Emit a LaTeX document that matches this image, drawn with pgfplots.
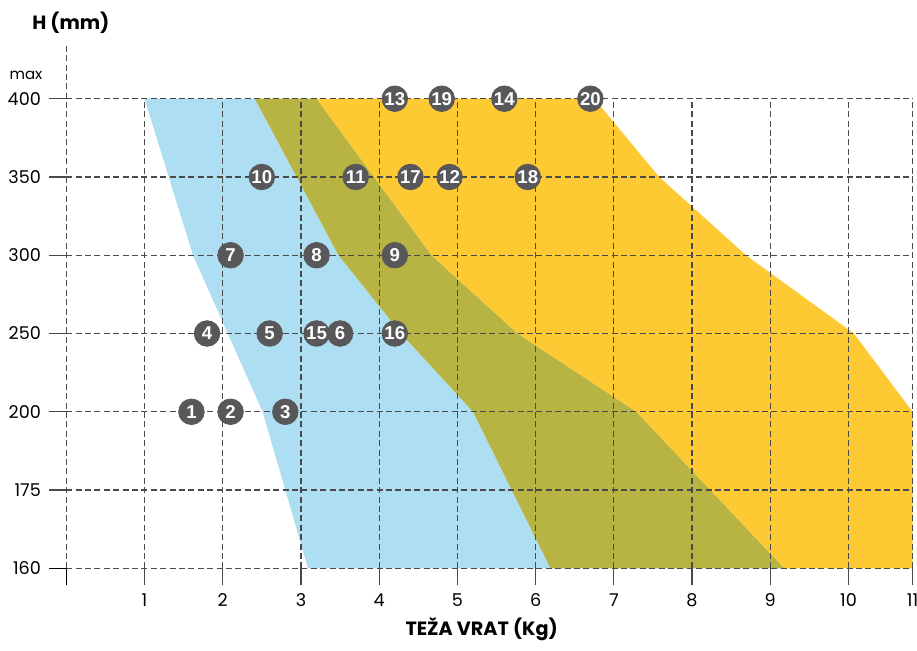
\documentclass[border=0pt]{standalone}
\usepackage{pgfplots}
\pgfplotsset{compat=1.18}
\usepackage{fontspec}
\setmainfont{Poppins}
\newfontfamily\circfont{Liberation Sans}
\definecolor{cblue}{HTML}{AEDEF2}
\definecolor{colive}{HTML}{B8B444}
\definecolor{cyellow}{HTML}{FDCA34}
\definecolor{cdot}{HTML}{58585A}
\definecolor{cgrid}{HTML}{4A4A4A}
\begin{document}
\begin{tikzpicture}
\begin{axis}[
  set layers,
  scale only axis, width=423.15pt, height=234.8pt,
  xmin=0, xmax=10.82, ymin=0, ymax=6,
  axis line style={draw=none},
  xtick={0,1,2,3,4,5,6,7,8,9,10,10.82},
  xticklabels={{},1,2,3,4,5,6,7,8,9,10,11},
  ytick={0,1,2,3,4,5,6},
  yticklabels={160,175,200,250,300,350,400},
  xtick pos=bottom, ytick pos=left,
  tick align=outside, major tick length=8.5pt,
  major tick style={cgrid, line width=0.65pt, solid},
  grid=major,
  major grid style={cgrid, line width=0.65pt, dash pattern=on 3pt off 1.7pt},
  tick label style={font=\fontsize{8.8}{10}\selectfont, text=black},
  yticklabel style={inner sep=0pt, xshift=-4pt},
  xticklabel style={inner sep=0pt, yshift=-4pt},
  clip=false,
]
% blue region
\addplot[on layer=axis background, fill=cblue, draw=none] coordinates {
 (1,6) (1.62,4) (2.51,2) (3.09,0) (6.19,0) (5.20,2) (4.28,3) (3.48,4) (2.41,6)} -- cycle;
% overlap region
\addplot[on layer=axis background, fill=colive, draw=none] coordinates {
 (2.41,6) (3.48,4) (4.28,3) (5.20,2) (6.19,0) (9.18,0) (7.29,2) (5.77,3) (4.67,4) (3.2,6)} -- cycle;
% yellow region
\addplot[on layer=axis background, fill=cyellow, draw=none] coordinates {
 (3.2,6) (4.67,4) (5.77,3) (7.29,2) (9.18,0) (10.82,0) (10.82,2) (10.07,3) (8.69,4) (7.58,5) (6.75,6)} -- cycle;
% numbered points
\addplot[only marks, mark=*, mark size=6.4pt, color=cdot,
  nodes near coords, point meta=explicit symbolic,
  nodes near coords style={anchor=center, inner sep=0pt, text=white,
    font=\circfont\bfseries\fontsize{9.3}{10}\selectfont}]
  table[meta=label] {
x y label
1.6 2 1
2.1 2 2
2.8 2 3
1.8 3 4
2.6 3 5
3.5 3 6
2.1 4 7
3.2 4 8
4.2 4 9
2.5 5 10
3.7 5 11
4.9 5 12
4.2 6 13
5.6 6 14
3.2 3 15
4.2 3 16
4.4 5 17
5.9 5 18
4.8 6 19
6.7 6 20
};
\draw[cgrid, line width=0.65pt, dash pattern=on 3pt off 1.7pt] (axis cs:0,6) -- (axis cs:0,6.68);
\draw[black, line width=0.65pt] (axis cs:0,0) -- ++(0,-8.5pt);
\draw[black, line width=0.65pt] (axis cs:0,0) -- ++(-8.5pt,0);
\node[anchor=base west, inner sep=0pt, font=\fontsize{7.5}{9}\selectfont] at (axis cs:-0.73,6.25) {max};
\node[anchor=base west, inner sep=0pt, font=\bfseries\fontsize{9.6}{11}\selectfont] at (axis cs:-0.44,6.884) {H (mm)};
\node[anchor=base, inner sep=0pt, font=\bfseries\fontsize{9.6}{11}\selectfont] at (axis cs:5.31,-0.861) {TEŽA VRAT (Kg)};
\coordinate (O) at (axis cs:0,0);
\end{axis}
\pgfresetboundingbox
\path (O) ++(-33.15pt,-40.85pt) rectangle ++(458.5pt,325pt);
\end{tikzpicture}
\end{document}
